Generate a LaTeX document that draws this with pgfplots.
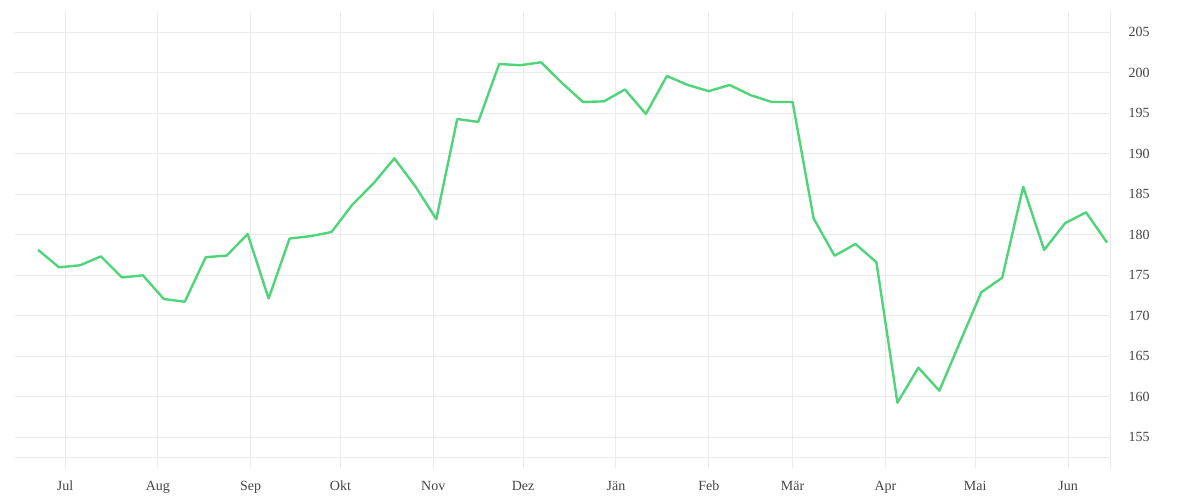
\documentclass[border=0pt]{standalone}
\usepackage{pgfplots}
\pgfplotsset{compat=1.18}
\usepackage{fontspec}
\setmainfont{Liberation Serif}
\definecolor{gridgray}{RGB}{235,235,235}
\definecolor{labelgray}{RGB}{68,68,68}
\definecolor{linegreen}{RGB}{80,212,122}
\begin{document}
\begin{tikzpicture}
\path[use as bounding box] (0,0) rectangle (900pt,375pt);
\begin{axis}[
  at={(11.25pt,31.5pt)}, anchor=south west,
  scale only axis, width=821.25pt, height=334.5pt,
  xmin=-16.7, xmax=349, ymin=152.41, ymax=207.47,
  axis x line=bottom, axis y line=right,
  axis line style={-, draw=gridgray, line width=0.75pt},
  xtick={0,31,62,92,123,153,184,215,243,274,304,335},
  xticklabels={Jul,Aug,Sep,Okt,Nov,Dez,Jän,Feb,Mär,Apr,Mai,Jun},
  extra x ticks={349}, extra x tick labels={},
  extra x tick style={grid=none},
  ytick={155,160,...,205},
  grid=major,
  major grid style={draw=gridgray, line width=0.75pt},
  tick align=outside,
  major tick length=7.5pt,
  x tick style={draw=gridgray, line width=0.75pt},
  y tick style={draw=none},
  ticklabel style={font=\fontsize{10.5}{12}\selectfont, text=labelgray},
  /pgf/number format/assume math mode=true,
  xticklabel style={anchor=center, text height=1.6ex, text depth=0.3ex, yshift=-14pt},
  yticklabel style={anchor=west, xshift=3pt},
  clip=false,
]
\addplot[linegreen, line width=1.8pt, line join=round] table {
x y
-9 178.1
-2 175.95
5 176.2
12 177.3
19 174.7
26 174.96
33 172.04
40 171.7
47 177.2
54 177.4
61 180.06
68 172.1
75 179.5
82 179.8
89 180.3
96 183.7
103 186.3
110 189.4
117 185.95
124 181.9
131 194.26
138 193.9
145 201.05
152 200.9
159 201.26
166 198.7
173 196.36
180 196.44
187 197.9
194 194.88
201 199.57
208 198.46
215 197.7
222 198.46
229 197.2
236 196.36
243 196.36
250 182.0
257 177.38
264 178.83
271 176.57
278 159.24
285 163.56
292 160.72
299 166.8
306 172.86
313 174.67
320 185.9
327 178.1
334 181.4
341 182.74
348 179.0
};
\end{axis}
\end{tikzpicture}
\end{document}
